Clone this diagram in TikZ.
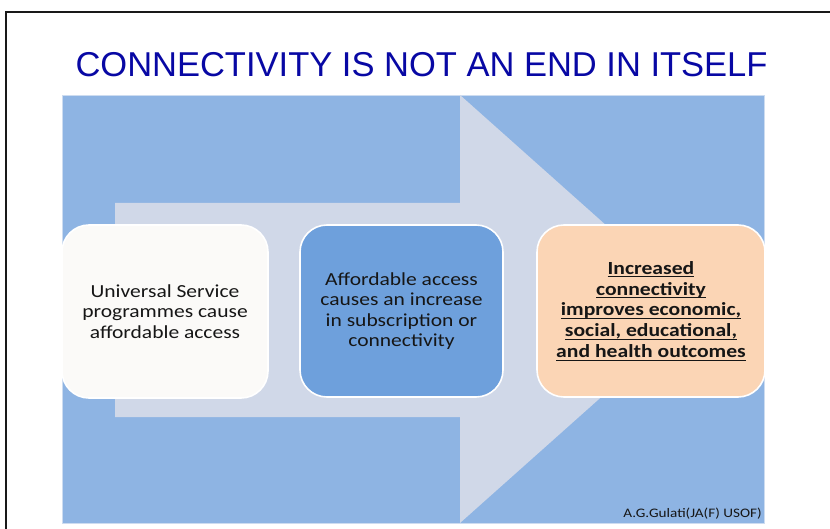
\documentclass[tikz,border=0pt]{standalone}
\usepackage{fontspec}
\setmainfont{Liberation Sans}
\newfontfamily\titlefont{Liberation Sans}
\newfontfamily\bodyfont[FakeStretch=1.17]{Carlito}

% underline a single line with a rule of chosen depth and thickness
\newsavebox\stageulbox
\newcommand\stageul[1]{\leavevmode\sbox\stageulbox{#1}%
  \rlap{\rule[-3.2pt]{\wd\stageulbox}{1.1pt}}\usebox\stageulbox}

\definecolor{titleblue}{RGB}{8,8,164}
\definecolor{panelblue}{RGB}{142,180,227}
\definecolor{paneledge}{RGB}{205,220,240}
\definecolor{arrowgray}{RGB}{208,216,232}
\definecolor{boxwhite}{RGB}{251,250,248}
\definecolor{boxblue}{RGB}{110,160,220}
\definecolor{boxpeach}{RGB}{251,213,181}
\definecolor{inktext}{RGB}{22,22,22}

\tikzset{
  stagebox/.style={draw=white, line width=1.6pt, rounded corners=27pt,
    align=center, inner sep=0pt, text=inktext,
    font=\bodyfont\fontsize{18.4}{20.6}\selectfont},
  titletext/.style={text=titleblue, inner sep=0pt,
    font=\titlefont\fontsize{34.5}{40}\selectfont},
  creditext/.style={text=inktext, inner sep=0pt,
    font=\bodyfont\fontsize{13}{15}\selectfont}
}

\begin{document}
\begin{tikzpicture}[x=1pt,y=-1pt]
\useasboundingbox (0,0) rectangle (830,529);
\fill[white] (0,0) rectangle (830,529);

% slide frame
\draw[line width=2pt, black!90] (5.5,529) -- (5.5,12.5) -- (830,12.5);

% heading
\node[titletext, anchor=base] (title) at (421.5,77) {CONNECTIVITY IS NOT AN END IN ITSELF};

% blue panel
\fill[panelblue, draw=paneledge, line width=0.8pt] (62,95) rectangle (764,523);

% large block arrow behind the stages
\fill[arrowgray] (115,203) -- (460,203) -- (460,95) -- (700,309)
  -- (460,523) -- (460,417) -- (115,417) -- cycle;

% the three stages
\node[stagebox, fill=boxwhite, minimum width=206pt, minimum height=173pt]
  (usp) at (165,311.5) {Universal Service\\programmes cause\\affordable access};
\node[stagebox, fill=boxblue, minimum width=203pt, minimum height=172pt]
  (afford) at (401.5,311) {Affordable access\\causes an increase\\in subscription or\\connectivity};
\node[stagebox, fill=boxpeach, minimum width=228pt, minimum height=172pt,
  font=\bodyfont\bfseries\fontsize{18.5}{20.8}\selectfont]
  (outcome) at (651,311) {\stageul{Increased}\\\stageul{connectivity}\\\stageul{improves economic,}\\\stageul{social, educational,}\\\stageul{and health outcomes}};

% credit line
\node[creditext, anchor=base east] (credit) at (762,517) {A.G.Gulati(JA(F) USOF)};
\end{tikzpicture}
\end{document}
